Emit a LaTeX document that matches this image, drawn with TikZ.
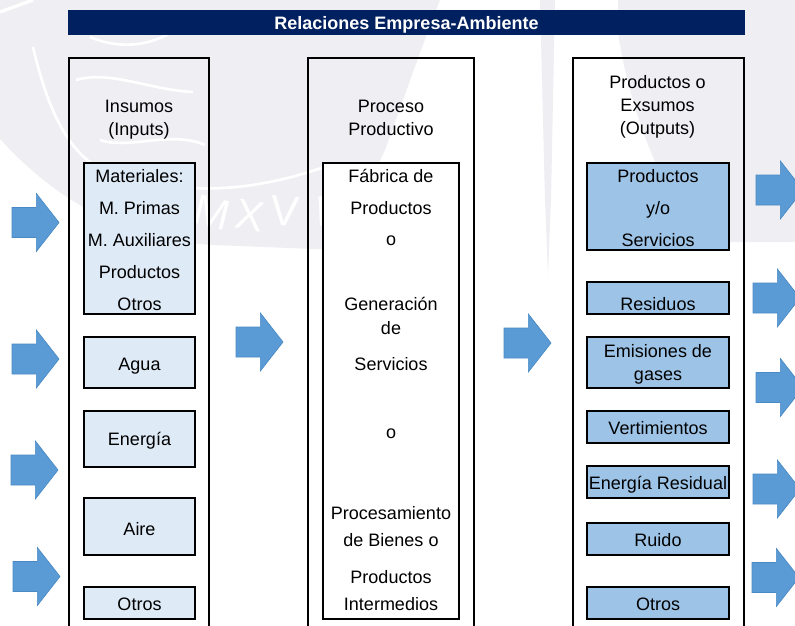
\documentclass[tikz,border=0pt]{standalone}
\usepackage{fontspec}
\setmainfont{Liberation Sans}
\usetikzlibrary{shapes.arrows}
\definecolor{navy}{HTML}{002060}
\definecolor{palebox}{HTML}{DEEAF6}
\definecolor{midbox}{HTML}{9DC3E6}
\definecolor{arrowfill}{HTML}{5B9BD5}
\definecolor{arrowline}{HTML}{4A8AC4}
\definecolor{seal}{HTML}{EEEEF3}
\newcommand{\drop}[1]{\rule{0pt}{#1pt}}
\tikzset{
    column/.style={draw, line width=1.2pt, anchor=north west, inner sep=0pt, outer sep=0pt},
    inbox/.style={draw, line width=1.2pt, fill=palebox, inner sep=0pt, outer sep=0pt, minimum width=83.25pt, align=center},
    outbox/.style={draw, line width=1.2pt, fill=midbox, inner sep=0pt, outer sep=0pt, minimum width=106.5pt, align=center},
    txt/.style={inner sep=0pt, align=center},
    sealletter/.style={text=white, inner sep=0pt, font=\fontsize{32}{32}\selectfont},
    sealwave/.style={white, line width=2pt},
    flow/.style={shape=single arrow, draw=arrowline, fill=arrowfill, line width=0.5pt, inner xsep=0pt, inner ysep=11pt, outer sep=0pt,
        minimum height=35.25pt, minimum width=43pt, single arrow head extend=10.5pt,
        single arrow tip angle=104, single arrow head indent=0pt, anchor=west}
}
\begin{document}
\begin{tikzpicture}[x=0.75pt, y=-0.75pt, font=\fontsize{13.5}{17.25}\selectfont]
    \useasboundingbox (0,0) rectangle (795,625);
    % seal behind the diagram
    \fill[seal] (0,0) -- (0,139) .. controls (60,205) and (130,240) .. (213,245) -- (340,250) -- (385,150) -- (421,50) -- (440,0) -- cycle;
    \fill[seal] (618,0) -- (618,33) .. controls (630,110) and (660,190) .. (703,242) -- (795,242) -- (795,0) -- cycle;
    \fill[seal] (540,0) -- (555,0) -- (551,200) -- (548,275) -- (545,200) -- cycle;
    \draw[sealwave] (33,47) .. controls (50,120) and (75,170) .. (130,180) .. controls (200,195) and (260,190) .. (330,165);
    \draw[sealwave] (90,37) .. controls (120,50) and (150,45) .. (170,33);
    \draw[sealwave] (76,80) .. controls (110,70) and (150,90) .. (193,92);
    \draw[sealwave] (100,140) .. controls (130,150) and (170,130) .. (205,145);
    \draw[white, line width=2.5pt] (0,12) -- (33,0);
    \node[sealletter, rotate=-14] (sealm) at (212,213) {M};
    \node[sealletter, rotate=-10] (sealx) at (250,216) {X};
    \node[sealletter, rotate=-5] (sealv) at (285,211) {V};
    \node[sealletter, rotate=3] (seali) at (322,212) {I};
    \node[sealletter, rotate=6] (sealj) at (339,211) {I};
    % title
    \node[fill=navy, text=white, inner sep=0pt, outer sep=0pt, minimum width=508pt, minimum height=18.75pt, font=\fontsize{13.5}{17.25}\selectfont\bfseries] (title) at (406.5,22.5) {\drop{13}Relaciones Empresa-Ambiente};
    % columns
    \node[column, minimum width=105pt, minimum height=450pt] (inputs) at (69,58) {};
    \node[column, minimum width=124.5pt, minimum height=450pt] (process) at (308,58) {};
    \node[column, minimum width=128.25pt, minimum height=450pt] (outputs) at (573,58) {};
    \node[txt] (inputshead) at (139,119.5) {Insumos\\(Inputs)};
    \node[txt] (processhead) at (391,118) {Proceso\\Productivo};
    \node[txt] (outputshead) at (657.5,106.5) {Productos o\\Exsumos\\(Outputs)};
    % inputs
    \node[inbox, minimum height=113.25pt, font=\fontsize{13.5}{24}\selectfont] (materials) at (139.5,238.5) {\drop{11.5}Materiales:\\M. Primas\\M. Auxiliares\\Productos\\Otros};
    \node[inbox, minimum height=38.25pt] (water) at (139.5,362.5) {\drop{14.5}Agua};
    \node[inbox, minimum height=42pt] (energy) at (139.5,439) {\drop{13}Energía};
    \node[inbox, minimum height=42.75pt] (air) at (139.5,526.5) {\drop{13}Aire};
    \node[inbox, minimum height=24pt] (otherin) at (139.5,603) {\drop{11.5}Otros};
    % process
    \node[draw, line width=1.2pt, fill=white, inner sep=0pt, outer sep=0pt, minimum width=102pt, minimum height=342pt] (plant) at (391,391) {};
    \node[txt] (p1) at (391,176) {Fábrica de};
    \node[txt] (p2) at (391,208) {Productos};
    \node[txt] (p3) at (391,241) {o};
    \node[txt] (p4) at (391,304) {Generación};
    \node[txt] (p5) at (391,328) {de};
    \node[txt] (p6) at (391,364) {Servicios};
    \node[txt] (p7) at (391,434) {o};
    \node[txt] (p8) at (391,513) {Procesamiento};
    \node[txt] (p9) at (391,540) {de Bienes o};
    \node[txt] (p10) at (391,577) {Productos};
    \node[txt] (p11) at (391,604) {Intermedios};
    % outputs
    \node[outbox, minimum height=65.25pt, font=\fontsize{13.5}{24}\selectfont] (goods) at (658,206.5) {\drop{11.5}Productos\\y/o\\Servicios};
    \node[outbox, minimum height=24pt] (waste) at (658,298) {\drop{19.5}Residuos};
    \node[outbox, minimum height=38.25pt] (gases) at (658,362.5) {\drop{13}Emisiones de\\gases};
    \node[outbox, minimum height=24pt] (dumps) at (658,427) {\drop{11.5}Vertimientos};
    \node[outbox, minimum height=24pt] (heat) at (658,482) {\drop{13.5}Energía Residual};
    \node[outbox, minimum height=24pt] (noise) at (658,539) {\drop{11.5}Ruido};
    \node[outbox, minimum height=24pt] (otherout) at (658,603) {\drop{11.5}Otros};
    % arrows
    \node[flow] (a1) at (12,222.5) {};
    \node[flow] (a2) at (12,359) {};
    \node[flow] (a3) at (11,470) {};
    \node[flow] (a4) at (13,576.5) {};
    \node[flow] (a5) at (236,342) {};
    \node[flow] (a6) at (504,343) {};
    \node[flow] (a7) at (756,190) {};
    \node[flow] (a8) at (753,298) {};
    \node[flow] (a9) at (756,387.5) {};
    \node[flow] (a10) at (753,489) {};
    \node[flow] (a11) at (752,577.5) {};
\end{tikzpicture}
\end{document}
